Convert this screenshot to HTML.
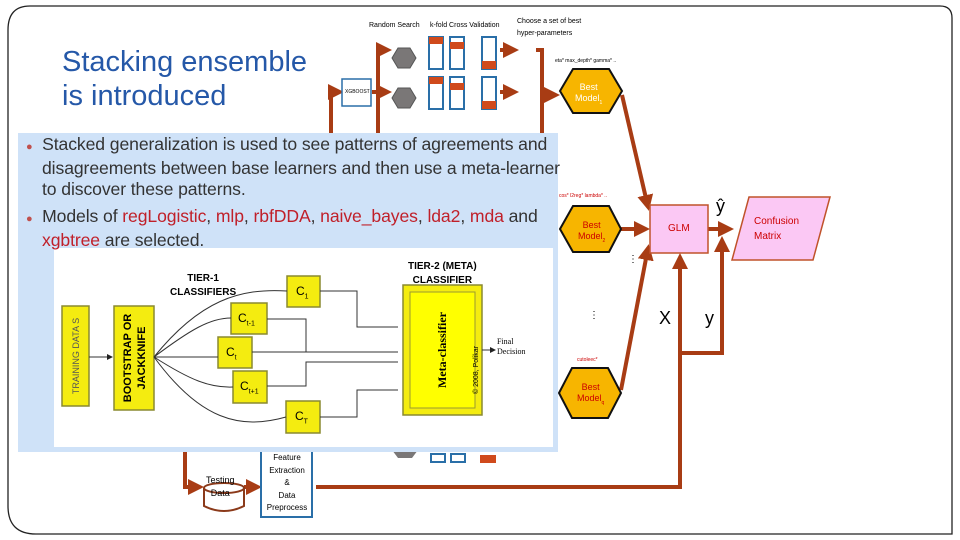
<!DOCTYPE html>
<html><head><meta charset="utf-8"><style>
body{margin:0;width:960px;height:540px;overflow:hidden;background:#fff;font-family:"Liberation Sans",sans-serif}
svg{position:absolute;left:0;top:0}
.t{position:absolute;white-space:nowrap}
</style></head><body>
<svg width="960" height="540" viewBox="0 0 960 540">
<defs>
<marker id="a" markerWidth="4" markerHeight="4" refX="3" refY="2" orient="auto"><path d="M0,0L4,2L0,4z" fill="#a83c14"/></marker>
<marker id="k" markerWidth="6" markerHeight="6" refX="5" refY="3" orient="auto"><path d="M0,0L6,3L0,6z" fill="#222"/></marker>
</defs>
<path d="M30,6H940Q952,6 952,18V534H36Q8,534 8,506V30Q8,6 30,6Z" fill="none" stroke="#222" stroke-width="1.3"/>
<g stroke="#a83c14" stroke-width="4" fill="none">
<path d="M331,135V92H340" marker-end="url(#a)"/>
<path d="M378,135V50H388" marker-end="url(#a)"/>
<path d="M378,92H388" marker-end="url(#a)"/>
<path d="M372,92H378"/>
<path d="M500,50H515" marker-end="url(#a)"/>
<path d="M500,92H515" marker-end="url(#a)"/>
<path d="M536,50H542V135"/>
<path d="M542,95H556" marker-end="url(#a)"/>
<path d="M622,95L648,207" marker-end="url(#a)"/>
<path d="M621,229H646" marker-end="url(#a)"/>
<path d="M621,390L648,248" marker-end="url(#a)"/>
<path d="M708,229H730" marker-end="url(#a)"/>
<path d="M316,487H680V257" marker-end="url(#a)"/>
<path d="M680,353H722V240" marker-end="url(#a)"/>
<path d="M185,452V487H200" marker-end="url(#a)"/>
<path d="M244,487H258" marker-end="url(#a)"/>
</g>
<rect x="342" y="79" width="29" height="27" fill="#fff" stroke="#2a6fa8" stroke-width="1.5"/>
<g fill="#7a7777" stroke="#555">
<path d="M392,58L398,48H410L416,58L410,68H398Z"/><path d="M392,98L398,88H410L416,98L410,108H398Z"/>
</g>
<g fill="#fff" stroke="#2a6fa8" stroke-width="2">
<rect x="429" y="37" width="14" height="32"/><rect x="450" y="37" width="14" height="32"/><rect x="482" y="37" width="14" height="32"/>
<rect x="429" y="77" width="14" height="32"/><rect x="450" y="77" width="14" height="32"/><rect x="482" y="77" width="14" height="32"/>
<rect x="431" y="454" width="14" height="8"/><rect x="451" y="454" width="14" height="8"/>
</g>
<g fill="#d04a1c"><rect x="429" y="37" width="14" height="7"/><rect x="450" y="42" width="14" height="7"/><rect x="482" y="61" width="14" height="8"/>
<rect x="429" y="77" width="14" height="7"/><rect x="450" y="83" width="14" height="7"/><rect x="482" y="101" width="14" height="8"/><rect x="480" y="455" width="16" height="8"/></g>
<g fill="#f7b500" stroke="#111" stroke-width="2">
<path d="M560,91L573,69H609L622,91L609,113H573Z"/>
<path d="M560,229L573,206H609L621,229L609,252H573Z"/>
<path d="M559,393L572,368H608L621,393L608,418H572Z"/>
</g>
<rect x="650" y="205" width="58" height="48" fill="#fbc8f4" stroke="#c0522a" stroke-width="1.5"/>
<path d="M749,197H830L813,260H732Z" fill="#fbc8f4" stroke="#c0522a" stroke-width="1.5"/>
<path d="M204,488V506Q224,516 244,506V488" fill="#fff" stroke="#8b3a1a" stroke-width="2"/>
<ellipse cx="224" cy="488" rx="20" ry="5" fill="#fff" stroke="#8b3a1a" stroke-width="2"/>
<rect x="261" y="440" width="51" height="77" fill="#fff" stroke="#2a6fa8" stroke-width="2"/>
<path d="M392,450H418L412,458H398Z" fill="#7a7777"/>
<rect x="18" y="133" width="540" height="319" fill="#cfe2f8"/>
<rect x="54" y="248" width="499" height="199" fill="#fff"/>
<g fill="#f4ec10" stroke="#8a8a30" stroke-width="1.5">
<rect x="62" y="306" width="27" height="100"/><rect x="114" y="306" width="40" height="104"/>
<rect x="287" y="276" width="33" height="31"/><rect x="231" y="303" width="36" height="31"/><rect x="218" y="337" width="34" height="31"/><rect x="233" y="371" width="34" height="32"/><rect x="286" y="401" width="34" height="32"/>
<rect x="403" y="285" width="79" height="130"/>
</g>
<rect x="410" y="292" width="65" height="116" fill="#ff0" stroke="#9a9a30"/>
<g stroke="#333" stroke-width="1" fill="none">
<path d="M89,357H112" marker-end="url(#k)"/>
<path d="M154,357C200,300 240,288 287,291M154,357C190,330 210,318 231,318M154,357H218M154,357C190,380 210,388 233,387M154,357C200,420 240,430 286,417"/>
<path d="M320,291H357V327H398M267,319H306V352H398M252,352H398M267,386H306V362H398M320,417H357V390H398"/>
<path d="M482,350H495" marker-end="url(#k)"/>
</g>
<g font-family="Liberation Sans, sans-serif" text-anchor="middle">
<text transform="translate(79,356) rotate(-90)" font-size="9" fill="#555">TRAINING DATA S</text>
<text transform="translate(131,358) rotate(-90)" font-size="11" font-weight="bold">BOOTSTRAP OR</text>
<text transform="translate(145,358) rotate(-90)" font-size="11" font-weight="bold">JACKKNIFE</text>
<text transform="translate(446,350) rotate(-90)" font-size="12" font-weight="bold" font-family="Liberation Serif, serif">Meta-classifier</text>
<text transform="translate(478,370) rotate(-90)" font-size="7">© 2008, Polikar</text>
</g>
</svg>
<div class="t" style="left:62px;top:45px;font-size:29px;line-height:34px;color:#2558a8">Stacking ensemble<br>is introduced</div>
<div class="t" style="left:369px;top:22px;font-size:7px">Random Search</div>
<div class="t" style="left:430px;top:22px;font-size:7px">k-fold Cross Validation</div>
<div class="t" style="left:517px;top:16px;font-size:7px;line-height:12px">Choose a set of best<br>hyper-parameters</div>
<div class="t" style="left:345px;top:89px;font-size:5px">XGBOOST</div>
<div class="t" style="left:555px;top:58px;font-size:5px">eta* max_depth* gamma* ..</div>
<div class="t" style="left:559px;top:193px;font-size:5px;color:#c00">cos* l2reg* lambda* ..</div>
<div class="t" style="left:577px;top:357px;font-size:5px;color:#c00">cutoleec*</div>
<div class="t" style="left:575px;top:82px;font-size:9px;color:#fff;line-height:11px;text-align:center">Best<br>Model<sub style="font-size:5px">1</sub></div>
<div class="t" style="left:578px;top:220px;font-size:9px;color:#c00;line-height:11px;text-align:center">Best<br>Model<sub style="font-size:5px">2</sub></div>
<div class="t" style="left:577px;top:382px;font-size:9px;color:#c00;line-height:11px;text-align:center">Best<br>Model<sub style="font-size:5px">q</sub></div>
<div class="t" style="left:668px;top:223px;font-size:10px;color:#c00">GLM</div>
<div class="t" style="left:754px;top:214px;font-size:10px;color:#c00;line-height:15px">Confusion<br>Matrix</div>
<div class="t" style="left:716px;top:196px;font-size:18px">ŷ</div>
<div class="t" style="left:659px;top:308px;font-size:18px">X</div>
<div class="t" style="left:705px;top:308px;font-size:18px">y</div>
<div class="t" style="left:628px;top:254px;font-size:10px">⋮</div>
<div class="t" style="left:589px;top:310px;font-size:10px">⋮</div>
<div class="t" style="left:206px;top:474px;font-size:9px;line-height:13px;text-align:center">Testing<br>Data</div>
<div class="t" style="left:262px;top:452px;width:50px;font-size:8px;line-height:12.5px;text-align:center">Feature<br>Extraction<br>&amp;<br>Data<br>Preprocess</div>
<div class="t" style="left:20px;top:134px;font-size:17.6px;line-height:21px;color:#333;letter-spacing:-0.1px">
<div style="padding-left:22px;text-indent:-16px"><span style="color:#c0504d;font-size:11px">●</span>&nbsp; Stacked generalization is used to see patterns of agreements and<br>disagreements between base learners and then use a meta-learner<br>to discover these patterns.</div>
<div style="padding-left:22px;text-indent:-16px;margin-top:6px"><span style="color:#c0504d;font-size:11px">●</span>&nbsp; Models of <span style="color:#c0202a">regLogistic</span>, <span style="color:#c0202a">mlp</span>, <span style="color:#c0202a">rbfDDA</span>, <span style="color:#c0202a">naive_bayes</span>, <span style="color:#c0202a">lda2</span>, <span style="color:#c0202a">mda</span> and<br><span style="color:#c0202a">xgbtree</span> are selected.</div></div>
<div class="t" style="left:170px;top:272px;font-size:10px;font-weight:bold;line-height:14px;text-align:center">TIER-1<br>CLASSIFIERS</div>
<div class="t" style="left:408px;top:260px;font-size:10px;font-weight:bold;line-height:14px;text-align:center">TIER-2 (META)<br>CLASSIFIER</div>
<div class="t" style="left:296px;top:284px;font-size:12px">C<sub style="font-size:7px">1</sub></div>
<div class="t" style="left:238px;top:311px;font-size:12px">C<sub style="font-size:7px">t-1</sub></div>
<div class="t" style="left:226px;top:345px;font-size:12px">C<sub style="font-size:7px">t</sub></div>
<div class="t" style="left:240px;top:379px;font-size:12px">C<sub style="font-size:7px">t+1</sub></div>
<div class="t" style="left:295px;top:409px;font-size:12px">C<sub style="font-size:7px">T</sub></div>
<div class="t" style="left:497px;top:337px;font-size:8px;line-height:10px;font-family:'Liberation Serif',serif">Final<br>Decision</div>
</body></html>
